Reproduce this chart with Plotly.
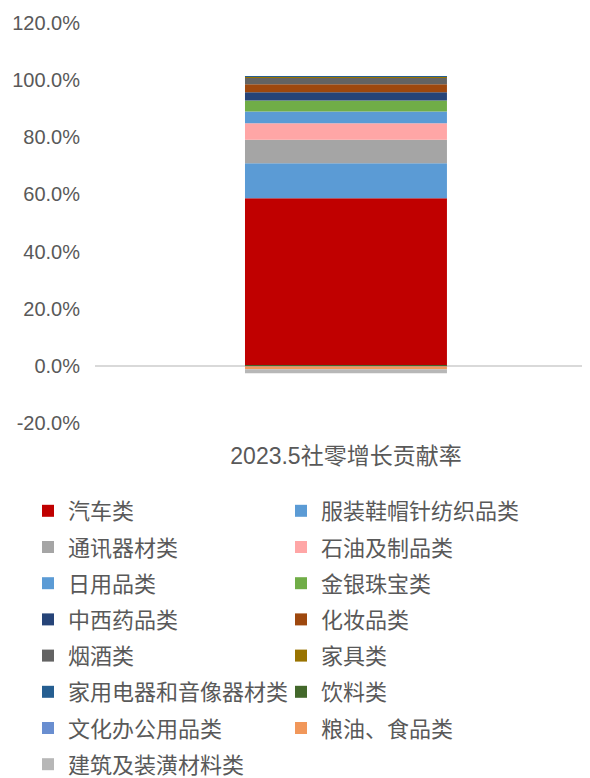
import plotly.graph_objects as go

category = ["2023.5社零增长贡献率"]
series_names = [
    "汽车类", "服装鞋帽针纺织品类", "通讯器材类", "石油及制品类", "日用品类",
    "金银珠宝类", "中西药品类", "化妆品类", "烟酒类", "家具类",
    "家用电器和音像器材类", "饮料类", "文化办公用品类", "粮油、食品类", "建筑及装潢材料类",
]
series_values = [
    58.7, 12.2, 8.2, 5.8, 4.1,
    3.9, 2.9, 2.8, 2.3, 0.35,
    0.05, -0.05, -0.1, -1.0, -1.4,
]
colors = [
    "#C00000", "#5B9BD5", "#A5A5A5", "#FFA6A6", "#5B9BD5",
    "#70AD47", "#264478", "#9E480E", "#636363", "#997300",
    "#255E91", "#43682B", "#698ED0", "#F1975A", "#B7B7B7",
]
y_ticks = [-20, 0, 20, 40, 60, 80, 100, 120]
y_tick_labels = ["-20.0%", "0.0%", "20.0%", "40.0%", "60.0%", "80.0%", "100.0%", "120.0%"]

FONT = "Liberation Sans, Noto Sans CJK SC, sans-serif"
W, H = 582, 770  # page body adds an 8px offset inside the 590x778 window

fig = go.Figure()
for i, (name, val, col) in enumerate(zip(series_names, series_values, colors)):
    fig.add_trace(go.Bar(
        x=category, y=[val], name=name,
        marker=dict(color=col, line=dict(width=0)),
        legend="legend" if i % 2 == 0 else "legend2",
        legendgroup=name,
    ))

legend_common = dict(
    orientation="v", traceorder="grouped", tracegroupgap=4.6,
    font=dict(family=FONT, size=22, color="#595959"),
    bgcolor="rgba(0,0,0,0)", borderwidth=0,
    xref="container", yref="container", xanchor="left", yanchor="top",
    itemclick=False, itemdoubleclick=False,
)

fig.update_layout(
    width=W, height=H,
    margin=dict(l=87, r=0, t=15, b=355, autoexpand=False),
    paper_bgcolor="white", plot_bgcolor="white",
    barmode="relative", bargap=0.592,
    showlegend=True,
    legend=dict(x=20 / W, y=1 - 482 / H, **legend_common),
    legend2=dict(x=273 / W, y=1 - 482 / H, **legend_common),
    xaxis=dict(
        type="category", range=[-0.507, 0.493], showgrid=False, showline=False, ticks="",
        tickfont=dict(family=FONT, size=23, color="#595959"),
        ticklabelstandoff=17,
    ),
    yaxis=dict(
        range=[-20, 120], tickmode="array", tickvals=y_ticks, ticktext=y_tick_labels,
        showgrid=False, showline=False, ticks="",
        zeroline=True, zerolinecolor="#D9D9D9", zerolinewidth=1.5,
        tickfont=dict(family=FONT, size=20, color="#595959"),
        ticklabelstandoff=14,
    ),
)

fig.write_html("out.html")
